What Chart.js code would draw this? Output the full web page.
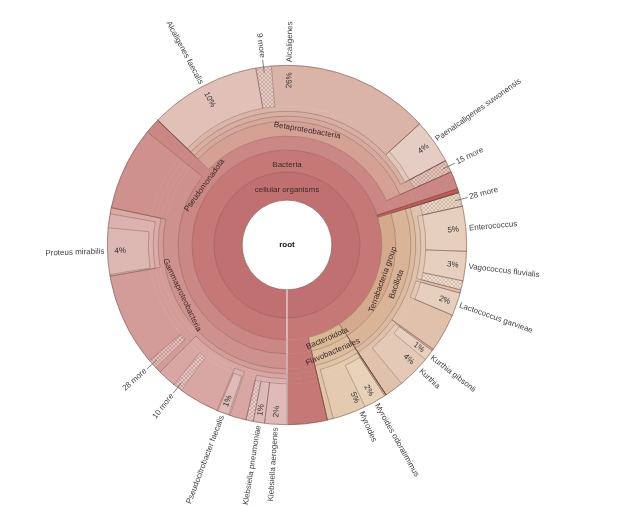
<!DOCTYPE html>
<html><head><meta charset="utf-8">
<script src="https://cdn.jsdelivr.net/npm/chart.js@4.4.0/dist/chart.umd.min.js"></script>
<style>html,body{margin:0;padding:0;background:#fff;}canvas{display:block;}</style>
</head><body>
<canvas id="c" width="624" height="506"></canvas>
<script>
// ---- data: share of reads (%) per taxon, ring by ring from the centre outwards ----
const ring1Names = ['cellular organisms'];
const ring1Values = [100];
const ring2Names = ['Bacteria'];
const ring2Values = [100];
const ring3Names = ['Pseudomonadota','other phyla','Terrabacteria group','Bacteroidota','Bacteria'];
const ring3Values = [69.93, 0.35, 20.42, 5.69, 3.61];
const ring4Names = ['Gammaproteobacteria','Pseudomonadota','Betaproteobacteria','Pseudomonadota','other phyla','Bacillota','Flavobacteriales','Bacteria'];
const ring4Values = [35.83, 1.39, 31.11, 1.60, 0.35, 20.42, 5.69, 3.61];
const ring5Names = ['Enterobacterales','Gammaproteobacteria','Pseudomonadota','Burkholderiales','Pseudomonadota','other phyla','Bacilli','Flavobacteriaceae','Bacteria'];
const ring5Values = [28.33, 7.50, 1.39, 31.11, 1.60, 0.35, 20.42, 5.69, 3.61];
const ring6Names = ['Enterobacteriaceae','Enterobacterales','Morganellaceae','Gammaproteobacteria','Pseudomonadota','Alcaligenaceae','Burkholderiales','Pseudomonadota','other phyla','Lactobacillales','Bacillales','Flavobacteriaceae','Myroides','Flavobacteriaceae','Bacteria'];
const ring6Values = [12.50, 9.72, 6.11, 7.50, 1.39, 30.00, 1.11, 1.60, 0.35, 14.58, 5.84, 0.14, 5.00, 0.55, 3.61];
const ring7Names = ['Klebsiella','Enterobacteriaceae','Pseudocitrobacter','Enterobacteriaceae','Enterobacterales','Proteus','Morganellaceae','Gammaproteobacteria','Pseudomonadota','Alcaligenes','Paenalcaligenes','Burkholderiales','Pseudomonadota','other phyla','Lactobacillales','Enterococcaceae','Lactobacillales','Streptococcaceae','Lactobacillales','Bacillales','Kurthia','Bacillales','Flavobacteriaceae','Myroides odoratimimus','Myroides','Flavobacteriaceae','Bacteria'];
const ring7Values = [3.67, 1.47, 1.25, 6.11, 9.72, 5.56, 0.55, 7.50, 1.39, 26.00, 4.00, 1.11, 1.60, 0.35, 1.25, 7.50, 0.28, 2.08, 3.47, 0.14, 4.00, 1.70, 0.14, 2.00, 3.00, 0.55, 3.61];
const ring8Names = ['Klebsiella aerogenes','Klebsiella pneumoniae','Klebsiella spp.','Enterobacteriaceae','Pseudocitrobacter','Pseudocitrobacter faecalis','Pseudocitrobacter','Enterobacteriaceae','10 more','Enterobacteriaceae','Enterobacterales','28 more','Enterobacterales','Proteus','Proteus mirabilis','Proteus','Morganellaceae','Gammaproteobacteria','Pseudomonadota','Alcaligenes faecalis','9 more','Alcaligenes','Paenalcaligenes suwonensis','15 more','Pseudomonadota','other phyla','28 more','Enterococcus','Vagococcus fluvialis','Vagococcus spp.','Lactobacillales','Lactococcus garvieae','Lactobacillales','Bacillales','Kurthia gibsonii','Kurthia','Bacillales','Flavobacteriaceae','Myroides odoratimimus','Myroides','Flavobacteriaceae','Bacteria'];
const ring8Values = [2.00, 1.00, 0.67, 1.47, 0.14, 1.00, 0.11, 3.61, 0.83, 1.67, 0.56, 0.83, 8.33, 0.14, 4.17, 1.25, 0.55, 7.50, 1.39, 10.00, 1.39, 14.61, 4.00, 1.11, 1.60, 0.35, 1.25, 4.03, 2.64, 0.83, 0.28, 2.08, 3.47, 0.14, 1.00, 3.00, 1.70, 0.14, 2.00, 3.00, 0.55, 3.61];

// labelled leaves and their percentages as printed
const leafLabelNames = ['Klebsiella aerogenes','Klebsiella pneumoniae','Pseudocitrobacter faecalis','Proteus mirabilis','Alcaligenes faecalis','Alcaligenes','Paenalcaligenes suwonensis','Enterococcus','Vagococcus fluvialis','Lactococcus garvieae','Kurthia gibsonii','Kurthia','Myroides odoratimimus','Myroides'];
const leafLabelPercents = ['2%','1%','1%','4%','10%','26%','4%','5%','3%','2%','1%','4%','2%','5%'];
const moreLabelNames = ['10 more','28 more','9 more','15 more'];
const hatchedNames = ['10 more','28 more','9 more','15 more','Klebsiella spp.','Vagococcus spp.'];
const innerLabelNames = ['Pseudomonadota','Gammaproteobacteria','Betaproteobacteria','Terrabacteria group','Bacillota','Bacteroidota','Flavobacteriales'];
const fullLabelNames = ['cellular organisms','Bacteria'];
const rootLabel = 'root';

// ---- styles ----
const nodeColors = {
 'cellular organisms':'#c07070','Bacteria':'#c57876','Pseudomonadota':'#cb8783',
 'Gammaproteobacteria':'#cf918e','Enterobacterales':'#d49c99','Enterobacteriaceae':'#d8a6a3',
 'Morganellaceae':'#d9aaa6','Klebsiella':'#dbb1ae','Pseudocitrobacter':'#dbb1ae','Proteus':'#dbb2ae',
 'Klebsiella aerogenes':'#dfbab7','Klebsiella pneumoniae':'#dfbab7','Pseudocitrobacter faecalis':'#dfbab7',
 'Proteus mirabilis':'#ddb7b2','Betaproteobacteria':'#d5a195','Burkholderiales':'#d7a99c',
 'Alcaligenaceae':'#d8afa2','Alcaligenes':'#d9b4a7','Alcaligenes faecalis':'#e1c1b7',
 'Paenalcaligenes':'#e3c7bc','Paenalcaligenes suwonensis':'#e6cdc3','other phyla':'#c45a57',
 'Terrabacteria group':'#d5a98b','Bacillota':'#dab496','Bacilli':'#dcba9f','Lactobacillales':'#e0c2ac',
 'Enterococcaceae':'#e3c9b5','Streptococcaceae':'#e3c9b5','Enterococcus':'#e7cfbe',
 'Vagococcus fluvialis':'#e7cfbe','Lactococcus garvieae':'#e7cfbe','Bacillales':'#e0c2ac',
 'Kurthia':'#e4cab6','Kurthia gibsonii':'#e7d0bd','Bacteroidota':'#d9b994','Flavobacteriales':'#dcbf9e',
 'Flavobacteriaceae':'#dfc4a6','Myroides':'#e4cbb0','Myroides odoratimimus':'#e7d1b9'
};
const ringWeights = [28, 22, 14, 15, 5, 5, 5, 41];
const FONT = '8px "Liberation Sans", Arial, sans-serif';
const BOLD = 'bold 8px "Liberation Sans", Arial, sans-serif';

const rings = [
 {names: ring1Names, values: ring1Values}, {names: ring2Names, values: ring2Values},
 {names: ring3Names, values: ring3Values}, {names: ring4Names, values: ring4Values},
 {names: ring5Names, values: ring5Values}, {names: ring6Names, values: ring6Values},
 {names: ring7Names, values: ring7Values}, {names: ring8Names, values: ring8Values}
];
const nR = rings.length;

function hexToRgb(h){h=h.replace('#','');return [0,2,4].map(i=>parseInt(h.substr(i,2),16));}
function mix(h, t, target){const c=hexToRgb(h);return 'rgb('+c.map(v=>Math.round(v+(target-v)*t)).join(',')+')';}
function hatch(base, line){
  const c=document.createElement('canvas');c.width=c.height=4;
  const g=c.getContext('2d');g.fillStyle=base;g.fillRect(0,0,4,4);
  g.strokeStyle=line;g.lineWidth=0.7;g.beginPath();
  g.moveTo(0,0);g.lineTo(4,4);g.moveTo(4,0);g.lineTo(0,4);g.stroke();
  return g.createPattern(c,'repeat');
}
// parent colour of a hatched outer-ring item: the ring-7 item covering the same share
function parentColor(k, j){
  const vals=rings[k].values;let s=0;for(let i=0;i<j;i++)s+=vals[i];const mid=s+vals[j]/2;
  const pv=rings[k-1].values;let c=0;
  for(let i=0;i<pv.length;i++){if(mid<=c+pv[i])return nodeColors[rings[k-1].names[i]]||'#d8b0a8';c+=pv[i];}
  return '#d8b0a8';
}
const datasets = rings.map((r,k)=>{
  const bg=[],bc=[];
  r.names.forEach((n,j)=>{
    if(hatchedNames.includes(n)){
      const p=parentColor(k,j);
      bg.push(hatch(mix(p,0.35,255), mix(p,0.12,0)));bc.push(mix(p,0.35,255));
    } else {bg.push(nodeColors[n]);bc.push(nodeColors[n]);}
  });
  return {data:r.values, backgroundColor:bg, borderColor:bc, borderWidth:0.6, weight:ringWeights[k], hoverOffset:0};
}).reverse();

const kronaPlugin = {
  id:'krona',
  afterDatasetsDraw(chart){
    const ctx=chart.ctx;
    const metaOf=k=>chart.getDatasetMeta(nR-1-k);
    const o=chart.getDatasetMeta(0).data[0];
    const cx=o.x, cy=o.y, R=o.outerRadius;
    // node outlines: each node runs from its own ring to the outer edge
    ctx.save();
    ctx.lineWidth=0.7;ctx.strokeStyle='rgba(105,65,60,0.5)';
    const seen=new Set();
    rings.forEach((ring,k)=>{
      const meta=metaOf(k);const local=new Set();
      ring.names.forEach((nm,j)=>{
        if(seen.has(nm))return;local.add(nm);
        const el=meta.data[j];
        ctx.beginPath();
        if(el.endAngle-el.startAngle>2*Math.PI-1e-6){
          ctx.arc(cx,cy,el.innerRadius,0,2*Math.PI);
        } else {
          const ri=el.innerRadius;
          ctx.moveTo(cx+R*Math.cos(el.endAngle),cy+R*Math.sin(el.endAngle));
          ctx.lineTo(cx+ri*Math.cos(el.endAngle),cy+ri*Math.sin(el.endAngle));
          ctx.arc(cx,cy,ri,el.endAngle,el.startAngle,true);
          ctx.lineTo(cx+R*Math.cos(el.startAngle),cy+R*Math.sin(el.startAngle));
        }
        ctx.stroke();
      });
      local.forEach(n=>seen.add(n));
    });
    ctx.strokeStyle='rgba(105,65,60,0.6)';ctx.lineWidth=0.8;
    ctx.beginPath();ctx.arc(cx,cy,R,0,2*Math.PI);ctx.stroke();
    // seam
    const e0=metaOf(0).data[0];
    const a0=e0.startAngle;
    ctx.strokeStyle='rgba(236,230,230,0.95)';ctx.lineWidth=1.2;
    ctx.beginPath();ctx.moveTo(cx+e0.innerRadius*Math.cos(a0),cy+e0.innerRadius*Math.sin(a0));
    ctx.lineTo(cx+R*Math.cos(a0),cy+R*Math.sin(a0));ctx.stroke();
    ctx.restore();

    const findEl=name=>{for(let k=0;k<nR;k++){const i=rings[k].names.indexOf(name);if(i>=0)return metaOf(k).data[i];}return null;};
    const mid=el=>(el.startAngle+el.endAngle)/2;
    function radial(text,a,r,isName,color,font){
      const right=Math.cos(a)>=0;
      ctx.save();ctx.translate(cx+r*Math.cos(a),cy+r*Math.sin(a));
      ctx.rotate(right?a:a+Math.PI);
      ctx.font=font||FONT;ctx.fillStyle=color;ctx.textBaseline='middle';
      ctx.textAlign = isName ? (right?'left':'right') : (right?'right':'left');
      ctx.fillText(text,0,0);ctx.restore();
    }
    // root and full-circle labels
    ctx.save();ctx.fillStyle='#111';ctx.font=BOLD;ctx.textAlign='center';ctx.textBaseline='middle';
    ctx.fillText(rootLabel,cx,cy);
    ctx.font=FONT;ctx.fillStyle='#3a2a2a';
    fullLabelNames.forEach(n=>{const el=findEl(n);const r=(el.innerRadius+el.outerRadius)/2-4;ctx.fillText(n,cx,cy-r);});
    ctx.restore();
    // tangential labels
    innerLabelNames.forEach(n=>{
      const el=findEl(n);if(!el)return;const a=mid(el);const r=(el.innerRadius+el.outerRadius)/2;
      const bottom=Math.sin(a)>0;
      ctx.save();ctx.translate(cx+r*Math.cos(a),cy+r*Math.sin(a));
      ctx.rotate(bottom?a-Math.PI/2:a+Math.PI/2);
      ctx.font=FONT;ctx.fillStyle='#3a2a2a';ctx.textAlign='center';ctx.textBaseline='middle';
      ctx.fillText(n,0,0);ctx.restore();
    });
    // leaf labels
    leafLabelNames.forEach((n,i)=>{
      const el=findEl(n);if(!el)return;const a=mid(el);
      radial(leafLabelPercents[i],a,R-7,false,'#333');
      radial(n,a,R+3,true,'#444');
    });
    // "more" labels with leader lines
    const outerMeta=metaOf(nR-1);
    rings[nR-1].names.forEach((n,j)=>{
      if(!moreLabelNames.includes(n))return;
      const a=mid(outerMeta.data[j]);
      ctx.save();ctx.strokeStyle='#666';ctx.lineWidth=0.8;ctx.beginPath();
      ctx.moveTo(cx+(R-6)*Math.cos(a),cy+(R-6)*Math.sin(a));ctx.lineTo(cx+(R+7)*Math.cos(a),cy+(R+7)*Math.sin(a));ctx.stroke();ctx.restore();
      radial(n,a,R+9,true,'#444');
    });
  }
};

new Chart(document.getElementById('c'),{
  type:'doughnut',
  data:{labels:ring8Names, datasets},
  options:{
    responsive:false, animation:false, rotation:180, cutout:'25%', events:[],
    layout:{padding:{left:107,top:65,right:157,bottom:81}},
    plugins:{legend:{display:false},tooltip:{enabled:false}}
  },
  plugins:[kronaPlugin]
});
</script>
</body></html>
